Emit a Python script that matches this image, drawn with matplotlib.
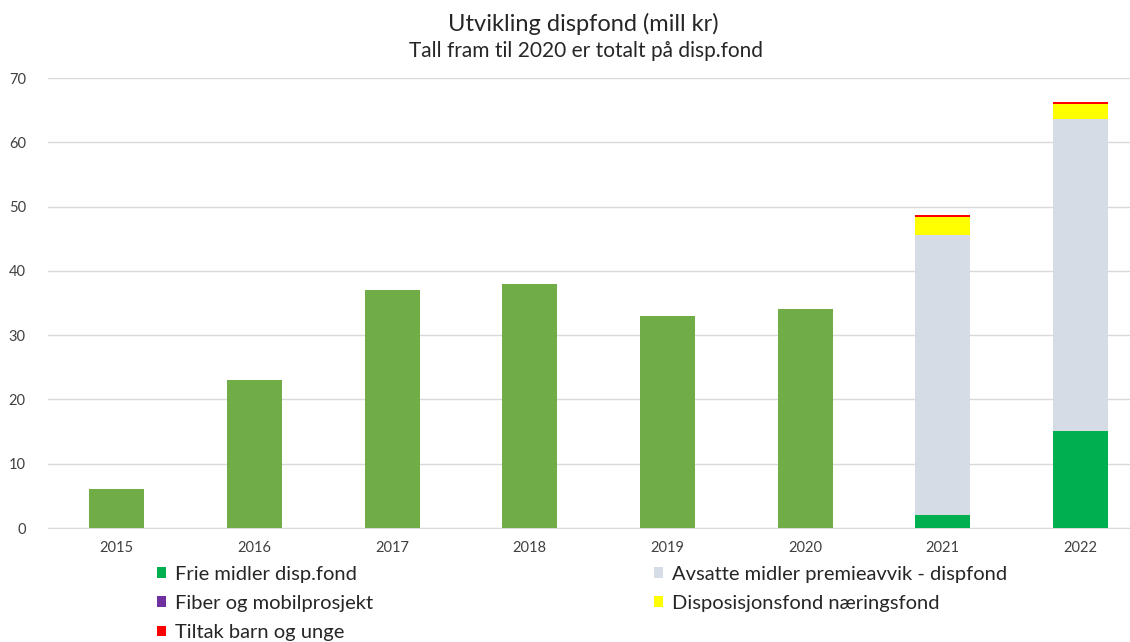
import matplotlib
matplotlib.use("Agg")
import matplotlib.pyplot as plt
import numpy as np

years = ["2015", "2016", "2017", "2018", "2019", "2020", "2021", "2022"]
totalt = [6, 23, 37, 38, 33, 34, 0, 0]
frie = [0, 0, 0, 0, 0, 0, 2.1, 15.1]
avsatte = [0, 0, 0, 0, 0, 0, 43.5, 48.5]
fiber = [0, 0, 0, 0, 0, 0, 0, 0]
naeringsfond = [0, 0, 0, 0, 0, 0, 2.8, 2.4]
tiltak = [0, 0, 0, 0, 0, 0, 0.25, 0.25]

labels = ["Frie midler disp.fond", "Avsatte midler premieavvik - dispfond",
          "Fiber og mobilprosjekt", "Disposisjonsfond næringsfond",
          "Tiltak barn og unge"]
colors = ["#00B050", "#D6DCE5", "#7030A0", "#FFFF00", "#FF0000"]

plt.rcParams['font.family'] = ['Lato', 'DejaVu Sans']

W, H = 1130, 642
fig = plt.figure(figsize=(W / 100, H / 100), dpi=100)
ax = fig.add_axes([48 / W, (H - 528) / H, 1 - 48 / W, (528 - 78) / H])

x = np.arange(len(years))
bw = 0.40
ax.bar(x, totalt, bw, color="#70AD47", zorder=3)

series = [frie, avsatte, fiber, naeringsfond, tiltak]
bottom = np.zeros(len(years))
handles = []
for vals, lab, col in zip(series, labels, colors):
    h = ax.bar(x, vals, bw, bottom=bottom, color=col, label=lab, zorder=3)
    handles.append(h)
    bottom = bottom + np.array(vals)

ax.set_xlim(-0.5, 7.36)
ax.set_ylim(0, 70)
ax.set_yticks(np.arange(0, 71, 10))
ax.set_xticks(x)
ax.set_xticklabels(years)
ax.grid(axis="y", color="#D9D9D9", linewidth=1, zorder=0)
for s in ["top", "right", "left"]:
    ax.spines[s].set_visible(False)
ax.spines["bottom"].set_color("#D9D9D9")
ax.tick_params(axis="both", length=0, labelsize=10.5, colors="#404040")
ax.tick_params(axis="y", pad=16)
ax.tick_params(axis="x", pad=9)

fig.text(583 / W, 1 - 24 / H, "Utvikling dispfond (mill kr)", ha="center", va="center",
         fontsize=17, color="#262626")
fig.text(586 / W, 1 - 51 / H, "Tall fram til 2020 er totalt på disp.fond", ha="center",
         va="center", fontsize=15, color="#262626")

common = dict(loc="upper left", frameon=False, fontsize=14.5, handlelength=0.45,
              handleheight=0.45, handletextpad=0.45, labelspacing=0.6,
              borderaxespad=0, borderpad=0)
leg1 = fig.legend([handles[0], handles[2], handles[4]],
                  [labels[0], labels[2], labels[4]],
                  bbox_to_anchor=(157 / W, 1 - 566 / H), **common)
leg2 = fig.legend([handles[1], handles[3]],
                  [labels[1], labels[3]],
                  bbox_to_anchor=(654 / W, 1 - 566 / H), **common)
for leg in (leg1, leg2):
    for t in leg.get_texts():
        t.set_color("#262626")

fig.savefig("out.png", dpi=100)
